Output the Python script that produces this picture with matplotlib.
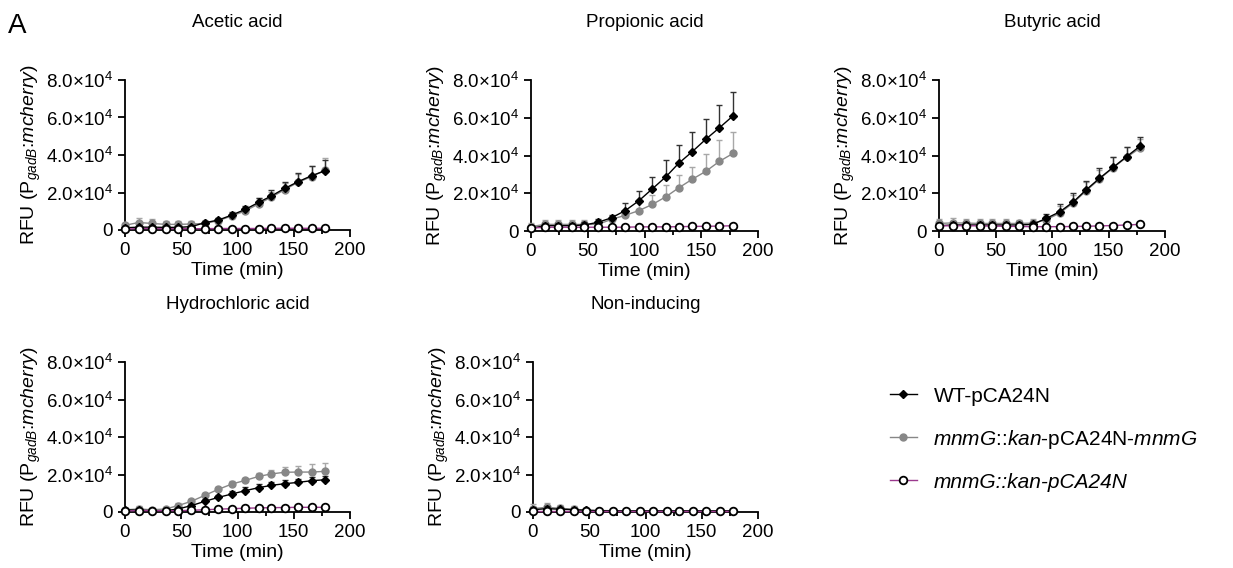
import matplotlib
matplotlib.use("Agg")
import matplotlib.pyplot as plt
from matplotlib.ticker import FixedLocator, FuncFormatter
from matplotlib.lines import Line2D
import numpy as np

plt.rcParams['font.family'] = ['Liberation Sans', 'DejaVu Sans']
plt.rcParams['mathtext.fontset'] = 'custom'
plt.rcParams['mathtext.rm'] = 'Liberation Sans'
plt.rcParams['mathtext.it'] = 'Liberation Sans:italic'

# time points (min)
t = [0, 12, 24, 36, 47, 59, 71, 83, 95, 107, 119, 130, 142, 154, 166, 178]

titles = ["Acetic acid", "Propionic acid", "Butyric acid", "Hydrochloric acid", "Non-inducing"]

# WT-pCA24N
wt_ace = [1200, 1500, 1500, 1400, 1400, 1800, 3900, 5300, 8000, 11000, 14800, 18100, 22200, 25800, 29000, 31600]
wt_pro = [1400, 2800, 2800, 2800, 3200, 4600, 7000, 10800, 16000, 22400, 28800, 35800, 42000, 48600, 54700, 61000]
wt_but = [2800, 3200, 3200, 3200, 3200, 3200, 3200, 3500, 6700, 10200, 15500, 21700, 27900, 33700, 39400, 45000]
wt_hcl = [1200, 900, 700, 700, 1600, 3400, 5700, 7800, 9600, 11400, 13000, 14200, 15100, 15800, 16700, 17200]
wt_non = [1200, 1800, 1500, 1200, 900, 700, 600, 600, 600, 600, 600, 600, 600, 600, 600, 600]

wt_ace_err = [800, 1000, 1000, 900, 900, 900, 1000, 1200, 1500, 2000, 2500, 3000, 3500, 4500, 5000, 5500]
wt_pro_err = [1500, 1500, 1500, 1500, 1500, 1500, 1400, 3900, 5100, 6400, 8800, 9700, 10200, 10600, 12000, 12500]
wt_but_err = [1500, 1500, 1500, 1500, 1500, 1500, 1500, 1500, 2300, 4000, 4400, 4800, 5300, 5600, 5300, 5000]
wt_hcl_err = [800, 800, 800, 800, 800, 1000, 1300, 1500, 1700, 2000, 2000, 2000, 1800, 1800, 1800, 1800]
wt_non_err = [1500, 1500, 1200, 1000, 800, 600, 500, 500, 500, 500, 500, 500, 500, 500, 500, 500]

# mnmG::kan-pCA24N-mnmG
gr_ace = [2500, 4000, 3500, 3000, 3000, 3200, 3500, 5000, 7500, 10200, 14000, 17500, 21500, 25500, 28500, 32000]
gr_pro = [2300, 3500, 3500, 3500, 3500, 3500, 6200, 8300, 10800, 14100, 18200, 22800, 27400, 31600, 36900, 41100]
gr_but = [4000, 4300, 4200, 4000, 4000, 4000, 4000, 4200, 6000, 9500, 15000, 21200, 27500, 33500, 39000, 44000]
gr_hcl = [1200, 1600, 1200, 1600, 3400, 5700, 8900, 12100, 14900, 16900, 19000, 20300, 21200, 21300, 21300, 21700]
gr_non = [1800, 2500, 2000, 1500, 1000, 800, 700, 700, 700, 700, 700, 700, 700, 700, 700, 700]

gr_ace_err = [1500, 2500, 2200, 2000, 1800, 1500, 1500, 1500, 1800, 2200, 3000, 3000, 3800, 4500, 5500, 6500]
gr_pro_err = [2000, 2300, 2300, 2300, 2300, 2000, 1500, 2300, 5800, 4800, 6200, 6900, 6700, 9000, 11300, 11500]
gr_but_err = [2500, 2500, 2300, 2200, 2200, 2200, 2000, 2000, 2200, 3500, 4000, 4500, 5000, 5500, 5500, 5000]
gr_hcl_err = [1200, 1500, 1200, 1200, 1200, 1200, 1200, 1300, 1400, 1500, 1800, 2200, 2700, 3500, 4300, 4400]
gr_non_err = [2500, 2500, 2000, 1500, 1000, 800, 600, 600, 600, 600, 600, 600, 600, 600, 600, 600]

# mnmG::kan-pCA24N
op_ace = [500, 800, 800, 700, 700, 700, 700, 800, 800, 800, 800, 900, 900, 900, 900, 900]
op_pro = [1500, 2000, 2000, 2000, 2000, 2000, 2000, 2000, 2200, 2200, 2200, 2300, 2400, 2500, 2600, 2800]
op_but = [2700, 2800, 2800, 2700, 2600, 2500, 2400, 2300, 2300, 2300, 2400, 2500, 2700, 2900, 3200, 3500]
op_hcl = [500, 800, 700, 700, 700, 900, 1200, 1500, 1800, 2000, 2200, 2300, 2400, 2500, 2500, 2500]
op_non = [300, 300, 300, 300, 300, 300, 300, 300, 300, 300, 300, 300, 300, 300, 300, 300]

wt_all = [wt_ace, wt_pro, wt_but, wt_hcl, wt_non]
wt_err_all = [wt_ace_err, wt_pro_err, wt_but_err, wt_hcl_err, wt_non_err]
gr_all = [gr_ace, gr_pro, gr_but, gr_hcl, gr_non]
gr_err_all = [gr_ace_err, gr_pro_err, gr_but_err, gr_hcl_err, gr_non_err]
op_all = [op_ace, op_pro, op_but, op_hcl, op_non]

legend_labels = ["WT-pCA24N",
                 r"$\mathit{mnmG}$::$\mathit{kan}$-pCA24N-$\mathit{mnmG}$",
                 "mnmG::kan-pCA24N"]

W, H = 1233, 568
fig = plt.figure(figsize=(12.33, 5.68), dpi=100)

# axes positions in pixels (left, bottom-y, right, top-y)
pos = [(125, 230, 350, 80), (531, 231, 758, 80), (939, 231, 1165, 80),
       (125, 512, 350, 362), (533, 512, 758, 362)]

grey = "#878787"
purple = "#9b3a8e"


def yfmt(v, p):
    if v == 0:
        return "0"
    return r"%.1f$\times$10$^{4}$" % (v / 1e4)


for i in range(5):
    l, b, r, tp = pos[i]
    ax = fig.add_axes([l / W, 1 - b / H, (r - l) / W, (b - tp) / H])
    ye = np.array(gr_err_all[i])
    ax.errorbar(t, gr_all[i], yerr=[np.zeros_like(ye), ye], color=grey, ecolor="#a8a8a8",
                marker="o", ms=5, lw=1.0, elinewidth=1.0, capsize=2.5, clip_on=False, zorder=3)
    ye = np.array(wt_err_all[i])
    ax.errorbar(t, wt_all[i], yerr=[np.zeros_like(ye), ye], color="black", ecolor="#333333",
                marker="D", ms=3.6, lw=1.0, elinewidth=1.0, capsize=2.5, clip_on=False, zorder=4)
    ax.plot(t, op_all[i], color=purple, lw=1.0, marker="o", ms=5.5, mfc="white", mec="black",
            mew=1.3, clip_on=False, zorder=5)

    ax.set_xlim(0, 200)
    ax.set_ylim(0, 80000)
    ax.xaxis.set_major_locator(FixedLocator([0, 50, 100, 150, 200]))
    ax.xaxis.set_minor_locator(FixedLocator([25, 75, 125, 175]))
    ax.yaxis.set_major_locator(FixedLocator([0, 20000, 40000, 60000, 80000]))
    ax.yaxis.set_major_formatter(FuncFormatter(yfmt))
    for s in ["top", "right"]:
        ax.spines[s].set_visible(False)
    for s in ["left", "bottom"]:
        ax.spines[s].set_linewidth(1.3)
    ax.tick_params(which="major", length=5, width=1.3, labelsize=13.5, direction="out")
    ax.tick_params(which="minor", length=3, width=1.3)
    ax.set_title(titles[i], fontsize=13.5, pad=38)
    ax.set_xlabel("Time (min)", fontsize=14, labelpad=2)
    ax.set_ylabel(r"RFU (P$_{\mathit{gadB}}$:$\mathit{mcherry}$)", fontsize=14, labelpad=2)

fig.text(8 / W, 1 - 26 / H, "A", fontsize=20, va="center", ha="left")

handles = [
    Line2D([], [], color="black", marker="D", ms=3.6, lw=1.0),
    Line2D([], [], color=grey, marker="o", ms=5, lw=1.0),
    Line2D([], [], color=purple, marker="o", ms=5.5, mfc="white", mec="black", mew=1.3, lw=1.0),
]
leg = fig.legend(handles, legend_labels, loc="upper left", bbox_to_anchor=(871 / W, 1 - 368 / H),
                 frameon=False, fontsize=15, handlelength=1.3, handletextpad=0.8, labelspacing=1.05)
leg.get_texts()[2].set_fontstyle("italic")

fig.savefig("out.png", dpi=100)
